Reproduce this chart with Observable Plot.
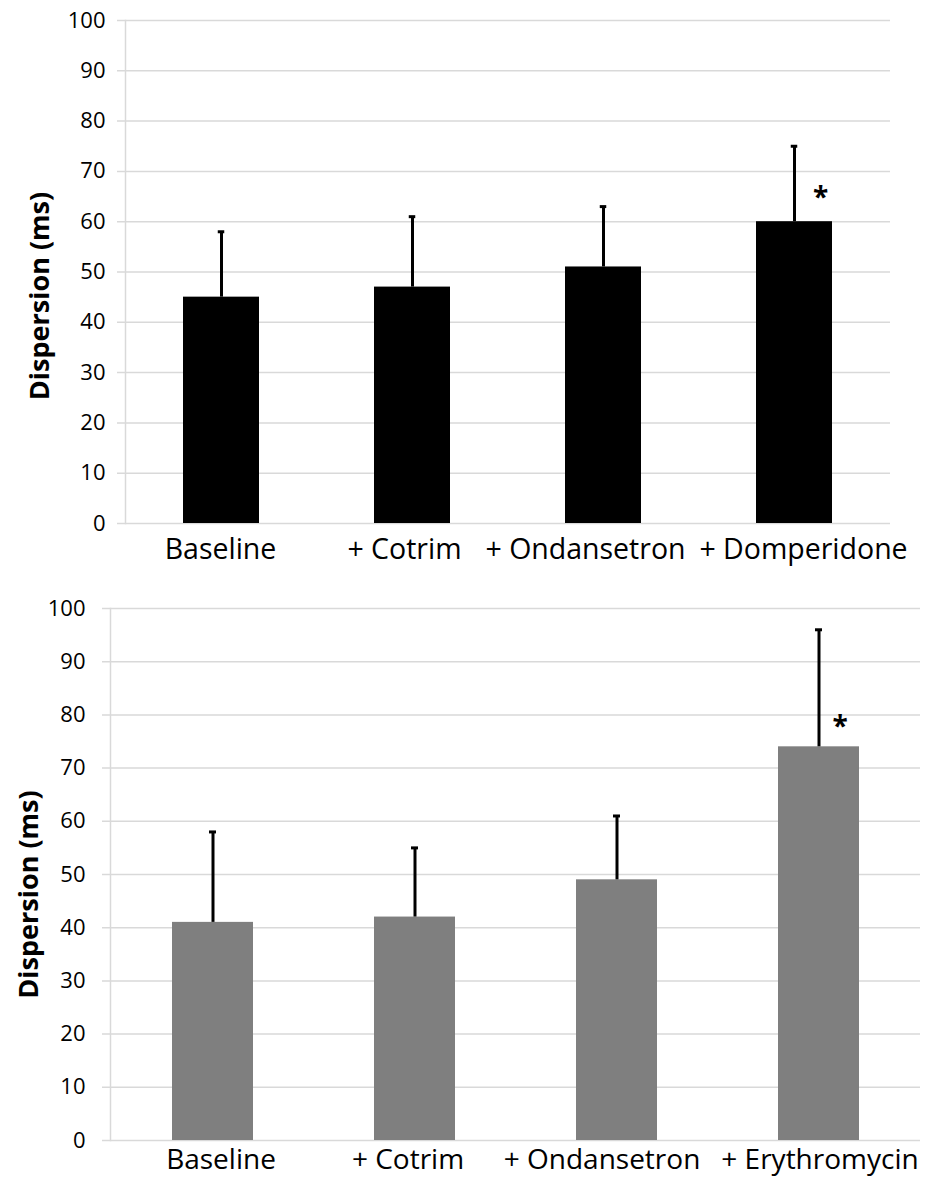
<!DOCTYPE html>
<html>
<head>
<meta charset="utf-8">
<script src="https://cdn.jsdelivr.net/npm/d3@7"></script>
<script src="https://cdn.jsdelivr.net/npm/@observablehq/plot@0.6"></script>
<style>
  html, body { margin: 0; padding: 0; background: #fff; }
  #chart svg { display: block; }
</style>
</head>
<body>
<div id="chart"></div>
<script>
// ---- data ----
const topCategories = ["Baseline", "+ Cotrim", "+ Ondansetron", "+ Domperidone"];
const topMeans = [45, 47, 51, 60];
const topUpper = [58, 61, 63, 75];
const topSig = ["", "", "", "*"];

const bottomCategories = ["Baseline", "+ Cotrim", "+ Ondansetron", "+ Erythromycin"];
const bottomMeans = [41, 42, 49, 74];
const bottomUpper = [58, 55, 61, 96];
const bottomSig = ["", "", "", "*"];

const yTicks = [0, 10, 20, 30, 40, 50, 60, 70, 80, 90, 100];
const yLabel = "Dispersion (ms)";

function panel(cats, means, upper, sig, opts) {
  const data = cats.map((c, i) => ({cat: c, mean: means[i], upper: upper[i], sig: sig[i]}));
  const W = 928;
  const bw = (W - opts.ml - opts.mr) / cats.length * 0.4;
  const capInset = (bw - 7) / 2;
  // category labels, each nudged horizontally as the spreadsheet did to avoid overlap
  const labelAxes = cats.map((c, i) =>
    Plot.axisX({ticks: [c], tickSize: 0, tickPadding: opts.xtp, fontSize: opts.xfs, label: null, dx: opts.labelDx[i]}));
  return Plot.plot({
    width: W,
    height: opts.height,
    marginTop: opts.mt,
    marginBottom: opts.mb,
    marginLeft: opts.ml,
    marginRight: opts.mr,
    style: {fontFamily: "'Open Sans', sans-serif", color: "#000", background: "#fff"},
    x: {domain: cats, paddingInner: 0.6, paddingOuter: 0.3, axis: null},
    y: {domain: [0, 100], axis: null},
    marks: [
      Plot.ruleY(yTicks, {stroke: "#d9d9d9", strokeWidth: 1.5, insetLeft: -8}),
      Plot.frame({anchor: "left", stroke: "#d9d9d9", strokeWidth: 1.5}),
      Plot.barY(data, {x: "cat", y: "mean", fill: opts.fill}),
      Plot.ruleX(data, {x: "cat", y1: "mean", y2: "upper", stroke: "#000", strokeWidth: 3}),
      Plot.tickY(data, {x: "cat", y: "upper", stroke: "#000", strokeWidth: 3, insetLeft: capInset, insetRight: capInset}),
      Plot.text(data.filter(d => d.sig), {x: "cat", y: "mean", text: "sig", dx: opts.sdx, dy: opts.sdy, fontSize: 28, fontWeight: "bold"}),
      ...labelAxes,
      Plot.axisY({ticks: yTicks, tickSize: 0, tickPadding: opts.tp, fontSize: 22, label: null}),
      Plot.text([yLabel], {frameAnchor: "left", dx: opts.ldx, dy: opts.ldy, rotate: -90, fontSize: 27, fontWeight: "bold", textAnchor: "middle", lineAnchor: "middle"})
    ]
  });
}

const el = document.getElementById("chart");
el.appendChild(panel(topCategories, topMeans, topUpper, topSig,
  {height: 583, mt: 20, mb: 60, ml: 125, mr: 38, fill: "#000", tp: 20, xtp: 15, xfs: 28.5,
   ldx: -85, ldy: 24, sdx: 26, sdy: -24, labelDx: [-1, -8, -18, 9]}));
el.appendChild(panel(bottomCategories, bottomMeans, bottomUpper, bottomSig,
  {height: 596, mt: 25, mb: 39, ml: 110, mr: 8, fill: "#7f7f7f", tp: 25, xtp: 9, xfs: 28,
   ldx: -81, ldy: 20, sdx: 21, sdy: -20, labelDx: [8, -7, -15, 1]}));
</script>
</body>
</html>
